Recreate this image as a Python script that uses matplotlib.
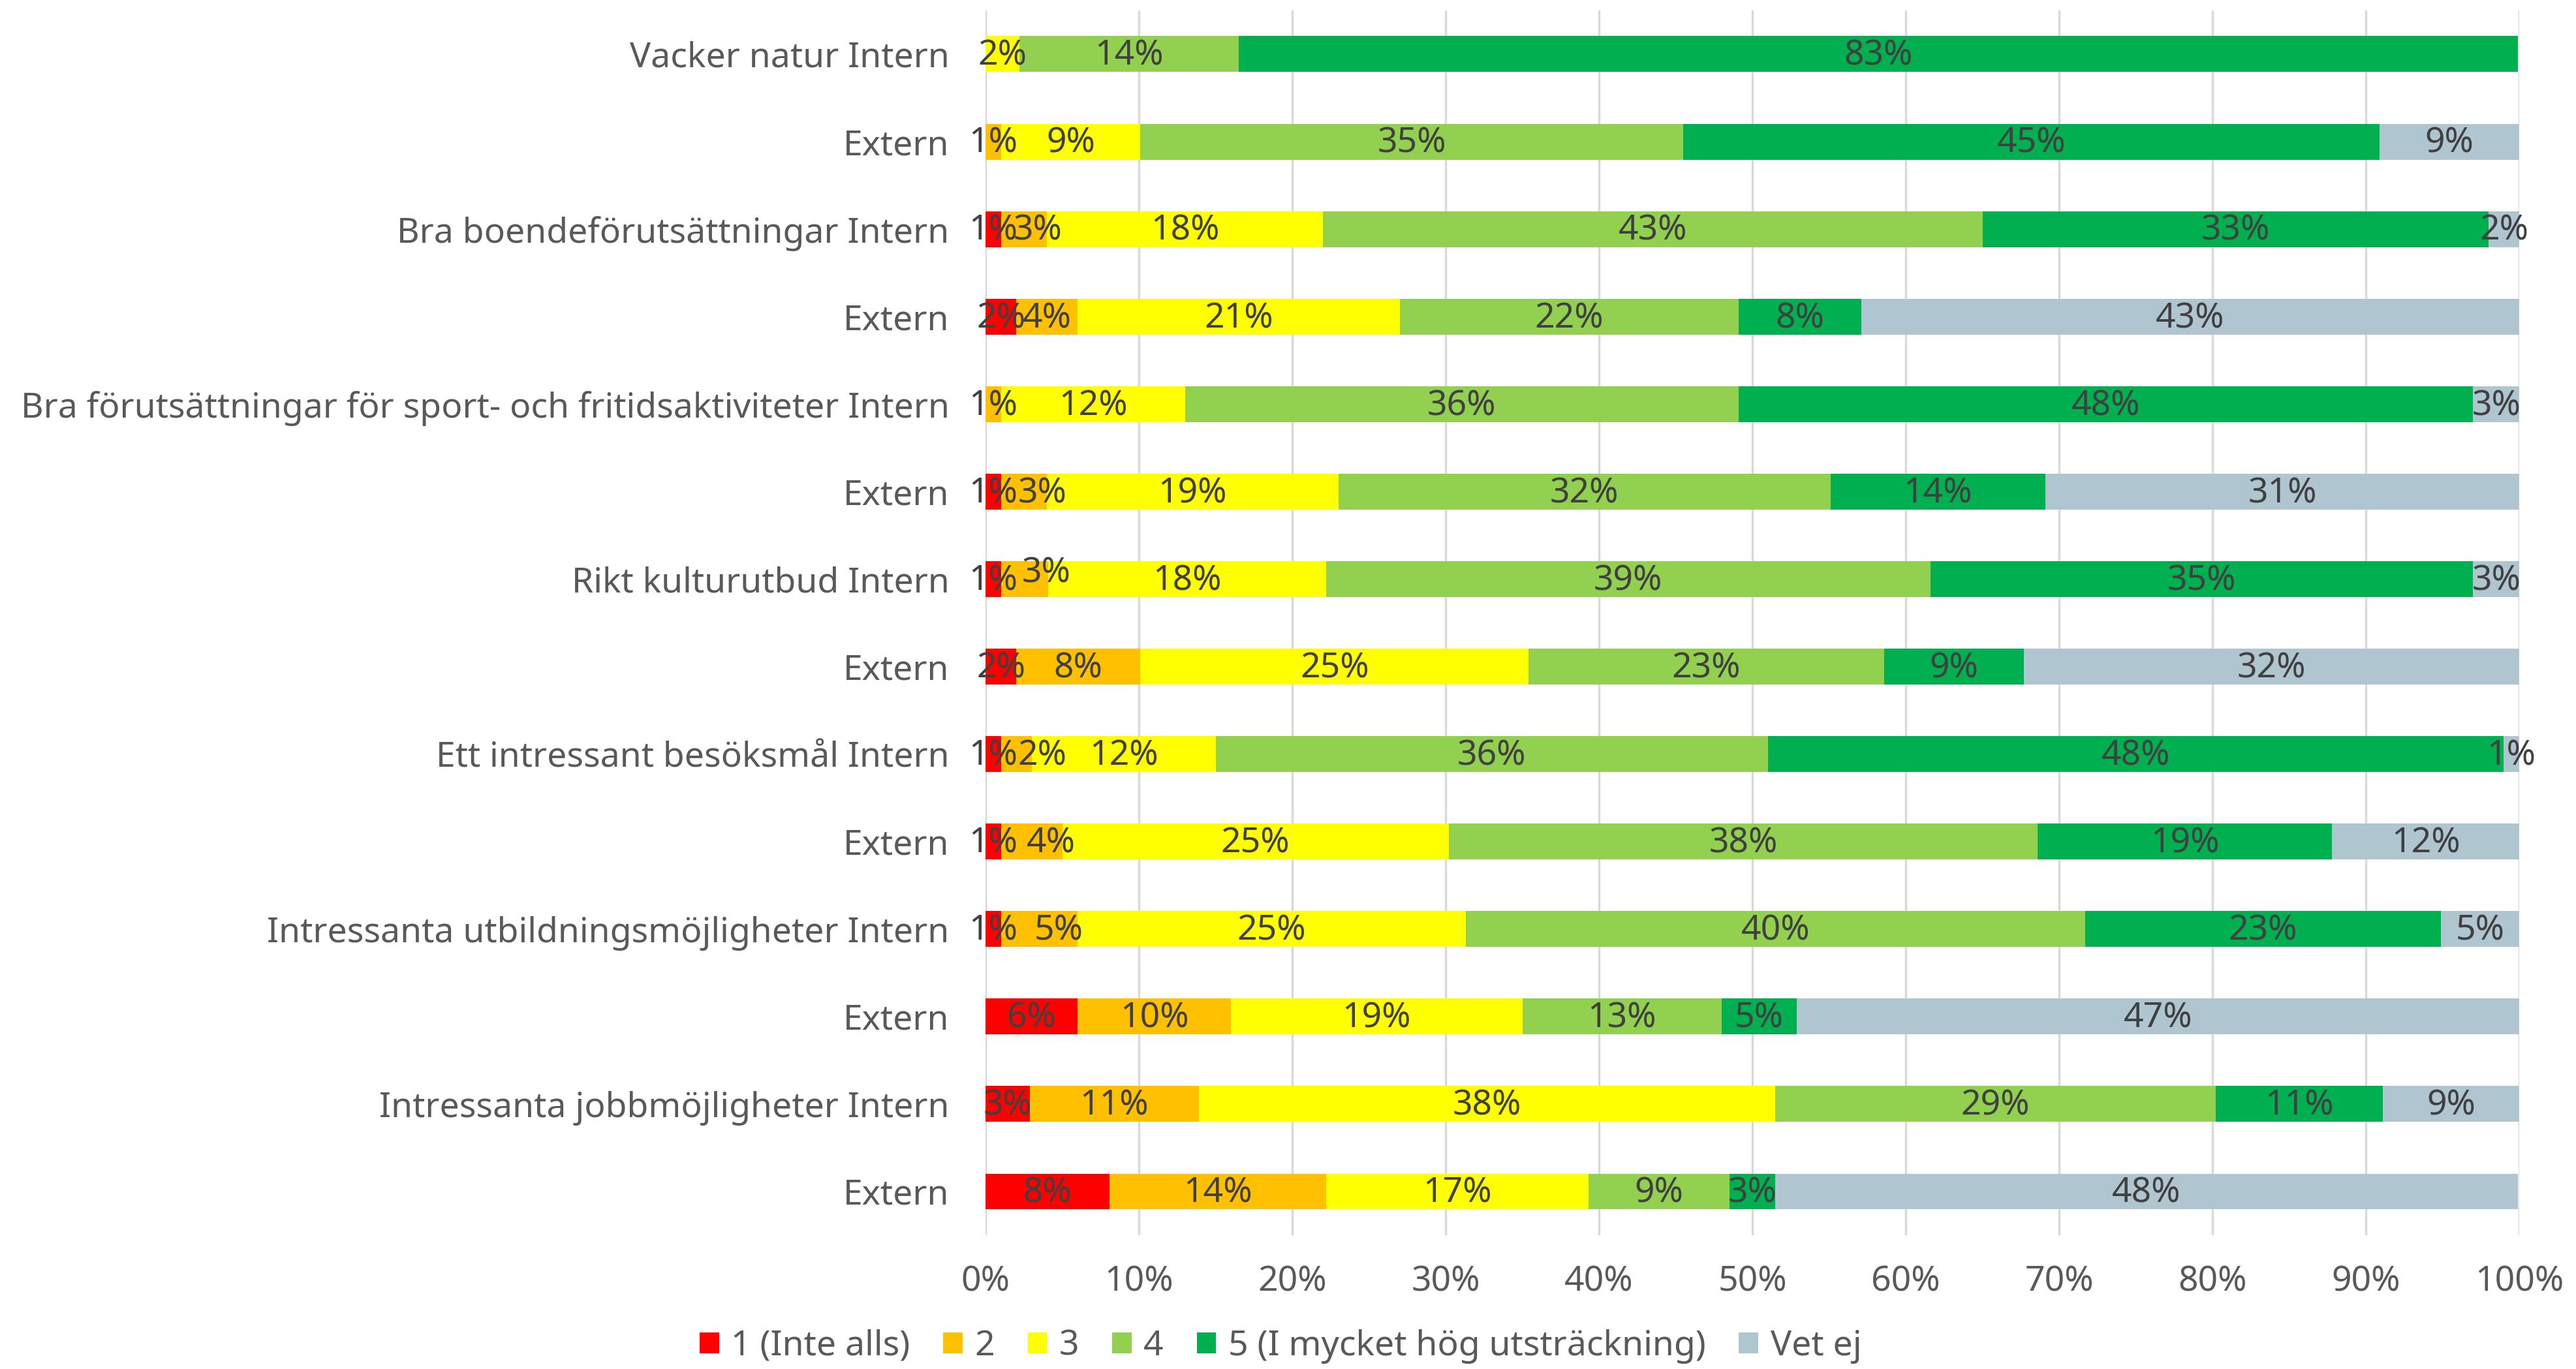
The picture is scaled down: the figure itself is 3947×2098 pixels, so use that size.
import matplotlib
matplotlib.use('Agg')
import matplotlib.pyplot as plt
import numpy as np

plt.rcParams['font.family'] = ['Noto Sans', 'DejaVu Sans']

# Kategorier (uppifrån och ned)
kategorier = ['Vacker natur Intern', 'Extern',
              'Bra boendeförutsättningar Intern', 'Extern',
              'Bra förutsättningar för sport- och fritidsaktiviteter Intern', 'Extern',
              'Rikt kulturutbud Intern', 'Extern',
              'Ett intressant besöksmål Intern', 'Extern',
              'Intressanta utbildningsmöjligheter Intern', 'Extern',
              'Intressanta jobbmöjligheter Intern', 'Extern']

serier = ['1 (Inte alls)', '2', '3', '4', '5 (I mycket hög utsträckning)', 'Vet ej']
farger = ['#FF0000', '#FFC000', '#FFFF00', '#92D050', '#00B050', '#AFC5D0']

# andelar i procent, en lista per svarsalternativ
s1 = [0, 0, 1.0, 2.0, 0, 1.0, 1.0, 2.0, 1.0, 1.0, 1.0, 6.0, 2.9, 8.1]
s2 = [0, 1.0, 3.0, 4.0, 1.0, 3.0, 3.1, 8.1, 2.0, 4.0, 5.0, 10.0, 11.0, 14.1]
s3 = [2.2, 9.1, 18.0, 21.0, 12.0, 19.0, 18.1, 25.3, 12.0, 25.2, 25.3, 19.0, 37.6, 17.1]
s4 = [14.3, 35.4, 43.0, 22.1, 36.1, 32.1, 39.4, 23.2, 36.0, 38.4, 40.4, 13.0, 28.7, 9.2]
s5 = [83.4, 45.4, 33.0, 8.0, 47.9, 14.0, 35.4, 9.1, 48.0, 19.2, 23.2, 4.9, 10.9, 3.0]
vetej = [0, 9.1, 2.0, 42.9, 3.0, 30.9, 3.0, 32.3, 1.0, 12.2, 5.1, 47.1, 8.9, 48.4]

data = [s1, s2, s3, s4, s5, vetej]

# manuellt flyttade etiketter i serie "2" (rad -> (dx i %, dy i rader))
flytt_s2 = {2: (0.9, 0), 5: (1.2, 0), 6: (1.4, -0.09),
            8: (1.7, 0), 9: (1.25, 0), 10: (1.27, 0)}

fs = 38.5
fig = plt.figure(figsize=(39.48, 20.98), dpi=100)
ax = fig.add_axes([0.3825, 0.0977, 0.9777 - 0.3825, 0.9924 - 0.0977])

y = np.arange(len(kategorier))
vanster = np.zeros(len(kategorier))
textfarg = '#404040'

for i, (vals, farg, namn) in enumerate(zip(data, farger, serier)):
    vals = np.array(vals, dtype=float)
    ax.barh(y, vals, left=vanster, height=0.41, color=farg, label=namn, zorder=3)
    for j, v in enumerate(vals):
        if v <= 0:
            continue
        cx = vanster[j] + v / 2
        cy = y[j] + 0.025
        if i == 1 and j in flytt_s2:
            cx += flytt_s2[j][0]
            cy += flytt_s2[j][1]
        ax.text(cx, cy, f'{round(v):.0f}%', ha='center', va='center',
                fontsize=fs, color=textfarg, zorder=4)
    vanster += vals

ax.set_xlim(0, 100)
ax.set_ylim(len(kategorier) - 0.5, -0.5)
ax.set_yticks(y)
ax.set_yticklabels(kategorier)
ax.set_xticks(np.arange(0, 101, 10))
ax.set_xticklabels([f'{t}%' for t in range(0, 101, 10)])
ax.tick_params(axis='y', length=0, pad=40, labelsize=fs, labelcolor='#595959')
ax.tick_params(axis='x', length=0, pad=33, labelsize=fs, labelcolor='#595959')
ax.grid(axis='x', color='#D9D9D9', linewidth=2.5, zorder=0)
for s in ax.spines.values():
    s.set_visible(False)

fig.legend(loc='lower center', bbox_to_anchor=(0.497, -0.019), ncol=6, frameon=False,
           fontsize=fs, labelcolor='#595959', handlelength=0.55, handleheight=0.55,
           handletextpad=0.35, columnspacing=0.95)

fig.savefig('out.png', dpi=100)
